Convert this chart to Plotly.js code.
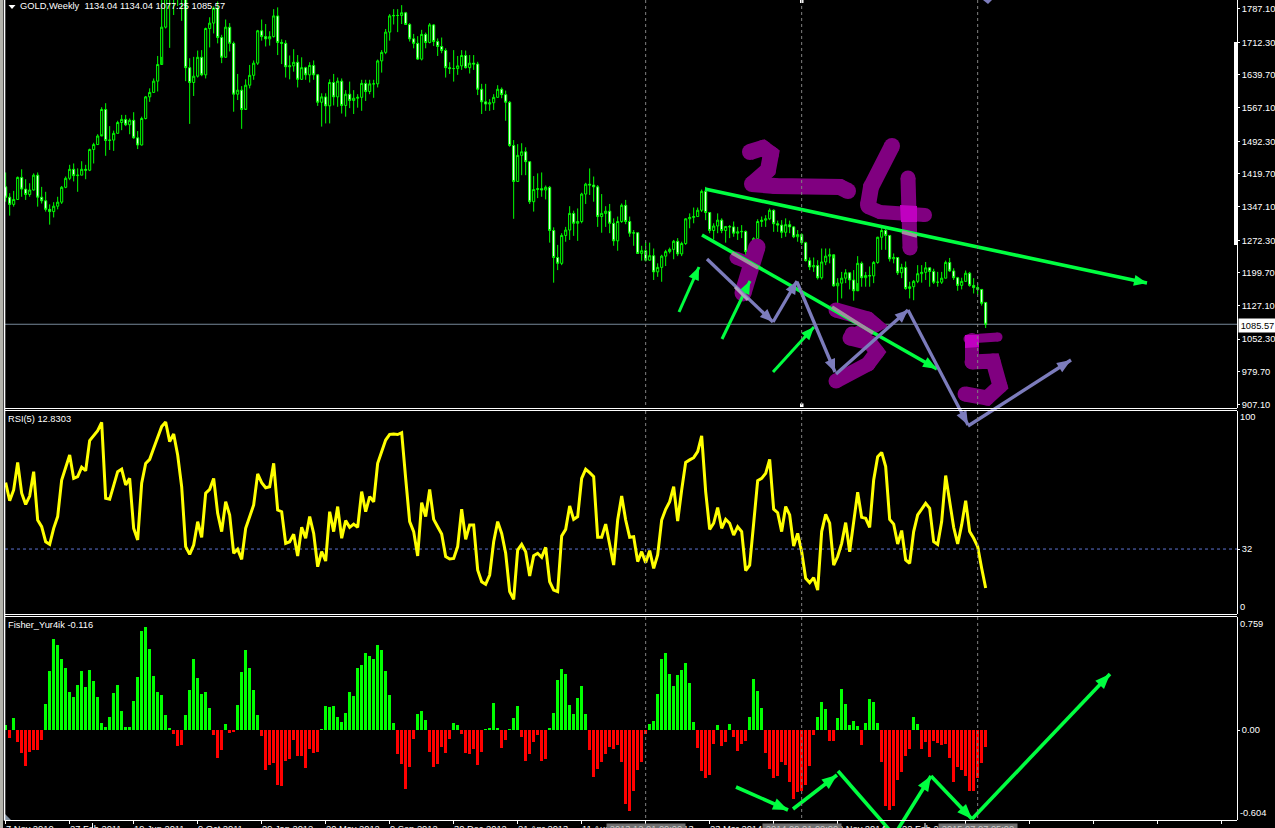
<!DOCTYPE html>
<html><head><meta charset="utf-8">
<script src="https://cdn.plot.ly/plotly-3.0.1.min.js"></script>
<style>html,body{margin:0;padding:0;background:#000;overflow:hidden}#c{width:1275px;height:828px}</style>
</head><body><div id="c"></div>
<script>
const firstOpen = 1391;
const closes = [1368,1352,1363,1412,1386,1374,1384,1417,1368,1360,1341,1336,1348,1357,1390,1410,1430,1416,1417,1430,
1428,1474,1485,1504,1563,1494,1495,1510,1534,1541,1529,1539,1500,1484,1543,1591,1601,1626,1663,1746,
1851,1830,1860,1880,1815,1656,1623,1637,1679,1640,1743,1755,1788,1723,1679,1746,1710,1597,1606,1563,
1617,1639,1666,1738,1725,1720,1725,1771,1712,1710,1658,1660,1668,1630,1656,1640,1661,1640,1579,1591,
1571,1623,1591,1626,1572,1597,1583,1588,1590,1621,1603,1620,1620,1671,1690,1735,1771,1772,1772,1778,
1752,1720,1710,1675,1730,1712,1751,1714,1703,1694,1656,1654,1654,1660,1683,1656,1666,1664,1608,1580,
1575,1578,1590,1608,1596,1579,1483,1403,1461,1469,1447,1358,1385,1387,1384,1390,1294,1234,1221,1283,
1295,1332,1310,1314,1375,1397,1395,1391,1325,1332,1337,1310,1271,1314,1350,1314,1288,1289,1243,1249,
1228,1238,1202,1212,1237,1247,1252,1270,1242,1265,1320,1323,1325,1339,1381,1334,1294,1304,1317,1294,
1303,1302,1288,1291,1292,1247,1251,1276,1314,1317,1320,1339,1309,1306,1290,1307,1302,1280,1285,1267,
1227,1213,1216,1189,1224,1237,1240,1171,1177,1188,1200,1184,1160,1221,1189,1194,1193,1223,1279,1294,
1283,1231,1234,1200,1212,1165,1169,1181,1198,1201,1211,1203,1179,1179,1188,1223,1204,1189,1172,1181,
1199,1172,1167,1163,1132,1085.57];
const highs = [1423,1377,1382,1414,1430,1408,1399,1421,1423,1391,1380,1352,1357,1369,1393,1414,1440,1443,1432,1448,
1440,1476,1489,1508,1568,1577,1526,1516,1538,1551,1551,1543,1557,1515,1547,1593,1610,1632,1682,1825,
1880,1880,1915,1920,1890,1815,1677,1680,1694,1695,1745,1768,1792,1803,1729,1763,1755,1714,1642,1615,
1630,1662,1672,1740,1763,1753,1737,1786,1790,1719,1717,1683,1697,1684,1679,1658,1668,1672,1642,1599,
1599,1630,1642,1634,1632,1606,1625,1606,1597,1629,1629,1629,1629,1674,1695,1742,1775,1786,1786,1795,
1780,1755,1731,1726,1740,1734,1755,1753,1721,1723,1699,1668,1695,1682,1695,1694,1684,1684,1669,1620,
1620,1586,1597,1617,1612,1605,1582,1495,1486,1488,1479,1448,1415,1421,1423,1394,1393,1301,1262,1288,
1302,1348,1338,1343,1378,1400,1432,1414,1395,1375,1348,1353,1321,1325,1354,1362,1325,1295,1289,1260,
1269,1267,1254,1221,1240,1251,1256,1273,1277,1269,1321,1332,1345,1345,1385,1391,1334,1310,1332,1321,
1304,1306,1314,1302,1306,1294,1257,1279,1319,1325,1328,1343,1341,1316,1317,1321,1316,1304,1295,1288,
1269,1234,1234,1228,1254,1254,1254,1232,1188,1202,1208,1200,1206,1237,1225,1202,1214,1226,1280,1306,
1302,1283,1243,1234,1220,1225,1180,1184,1217,1217,1224,1212,1209,1202,1202,1227,1233,1210,1191,1189,
1205,1202,1188,1177,1164,1134.04];
const lows = [1358,1327,1347,1362,1369,1362,1369,1383,1347,1354,1336,1307,1323,1341,1353,1388,1406,1403,1380,1417,
1408,1426,1443,1484,1508,1460,1473,1471,1510,1517,1526,1508,1498,1475,1483,1541,1580,1600,1603,1680,
1743,1700,1773,1793,1760,1626,1531,1593,1634,1637,1632,1701,1732,1710,1666,1680,1692,1558,1584,1520,
1565,1610,1629,1662,1716,1703,1705,1723,1684,1664,1634,1630,1647,1612,1629,1629,1623,1629,1571,1525,
1532,1532,1572,1569,1554,1547,1566,1553,1567,1560,1582,1597,1589,1612,1645,1686,1716,1752,1735,1753,
1751,1714,1699,1673,1672,1699,1710,1704,1682,1688,1634,1642,1625,1640,1651,1654,1643,1651,1595,1553,
1560,1560,1562,1590,1588,1538,1480,1320,1403,1417,1417,1353,1336,1366,1369,1363,1267,1178,1206,1217,
1269,1273,1282,1271,1310,1353,1373,1358,1302,1289,1302,1288,1260,1249,1311,1308,1280,1260,1242,1227,
1225,1227,1184,1191,1180,1215,1243,1230,1237,1237,1262,1299,1310,1325,1335,1317,1288,1274,1288,1288,
1267,1277,1280,1273,1277,1240,1237,1243,1274,1302,1302,1317,1291,1291,1277,1280,1288,1277,1269,1262,
1225,1206,1202,1185,1185,1217,1221,1169,1130,1143,1177,1163,1138,1177,1169,1169,1169,1177,1220,1251,
1251,1225,1221,1195,1188,1162,1143,1139,1177,1178,1184,1169,1175,1169,1175,1188,1202,1184,1160,1163,
1180,1169,1154,1151,1127,1077.25];
const rsi = [64.7,55.8,61.1,74.6,59.5,54.0,58.1,70.1,46.3,43.0,35.6,34.3,42.2,48.0,66.0,72.6,78.3,66.8,67.7,72.3,
70.6,85.4,87.7,90.3,94.4,57.0,56.5,63.6,70.1,71.4,63.6,66.8,42.2,36.5,64.4,74.2,76.2,81.6,86.5,92.3,
94.6,84.9,88.7,78.3,62.7,33.2,29.4,34.0,45.5,37.8,59.5,61.4,66.8,49.6,40.6,55.3,48.8,29.9,31.9,26.9,
42.2,48.0,53.7,69.0,64.7,62.2,62.7,74.2,51.2,50.4,34.8,35.6,39.3,28.6,42.7,37.3,48.0,39.7,23.3,30.7,
26.1,50.4,40.6,52.9,37.3,46.0,42.7,44.3,42.7,60.3,50.4,57.8,55.3,74.2,80.0,85.7,88.5,88.7,88.4,89.3,
66.8,45.5,40.6,28.6,54.9,48.0,61.4,46.6,43.0,39.4,28.3,27.1,27.4,33.2,51.6,36.8,43.9,43.9,21.7,15.9,
14.6,19.2,35.6,45.5,39.7,29.9,11.0,7.2,31.5,34.3,30.7,18.7,28.7,29.9,27.9,32.8,15.9,11.8,11.0,38.4,
41.7,53.2,46.6,48.0,66.8,71.3,69.6,67.7,37.8,37.8,44.3,33.2,24.1,46.3,58.1,46.3,37.8,38.1,25.8,30.7,
25.3,31.2,22.5,29.1,46.3,51.6,55.3,62.7,45.8,61.1,74.7,75.9,77.0,80.0,87.7,60.3,41.7,44.7,52.4,42.2,
46.6,44.7,38.9,43.0,40.6,21.4,24.1,44.7,65.7,66.8,69.3,76.2,51.6,49.9,40.6,52.9,48.8,33.5,39.7,30.7,
17.6,15.4,17.9,11.8,40.6,49.1,44.7,24.1,28.3,34.8,45.0,30.7,46.3,60.0,47.6,47.1,42.7,66.0,77.5,79.6,
72.6,46.6,44.3,34.5,41.1,26.6,25.0,40.6,48.8,51.6,54.5,52.1,35.6,34.3,45.5,68.2,54.5,42.7,34.5,43.9,
55.8,40.6,37.3,33.2,22.5,12.83];
const fisher = [.034,-.054,.081,-.081,-.155,-.242,-.148,-.134,-.134,-.067,.175,.396,.612,.571,.477,.417,.255,.222,.302,.396,
.289,.403,.329,.222,.047,.020,.087,.249,.302,.128,.02,.02,.195,.356,.665,.692,.544,.363,.255,.235,
.101,.013,-.027,-.108,-.101,.101,.269,.477,.349,.242,.255,.148,-.034,-.188,-.134,.04,-.02,-.013,.168,.39,
.538,.417,.269,.101,-.04,-.269,-.235,-.222,-.37,-.376,-.208,-.195,-.067,-.175,-.175,-.255,-.128,-.155,-.148,.007,
.161,.155,.161,.087,.054,.114,.255,.228,.417,.437,.517,.497,.477,.571,.538,.396,.235,.047,-.161,-.228,
-.396,-.249,-.06,.108,.128,.067,-.148,-.249,-.228,-.114,-.155,-.06,.047,.034,-.027,-.155,-.161,-.128,-.235,-.148,
.007,.013,.181,.013,-.121,-.067,.007,.081,.161,-.047,-.208,-.161,-.081,-.034,-.208,-.195,.013,.114,.336,.41,
.376,.168,.108,.215,.296,.108,-.134,-.316,-.262,-.215,-.161,-.114,-.128,-.101,-.215,-.497,-.544,-.41,-.269,-.215,
-.027,.04,.06,.242,.477,.517,.376,.296,.37,.403,.45,.316,.054,-.121,-.276,-.323,-.302,-.094,.034,-.108,
-.081,.04,-.047,-.141,-.094,-.074,.087,.343,.262,.148,-.155,-.262,-.323,-.309,-.215,-.235,-.349,-.464,-.417,-.41,
-.37,-.242,-.034,.087,.188,.141,-.074,-.074,.081,.276,.175,.034,.06,.027,-.101,.047,.208,.188,.047,-.215,
-.511,-.538,-.511,-.336,-.282,-.175,-.128,.087,.04,-.128,-.081,-.181,-.074,-.087,-.101,-.094,-.188,-.349,-.249,-.269,
-.309,-.41,-.41,-.323,-.222,-.116];
const priceTicks = [1787.10,1712.30,1639.70,1567.10,1492.30,1419.70,1347.10,1272.30,1199.70,1127.10,1052.30,979.70,907.10];
const dateTickBars = [0,16,32,48,64,80,96,112,128,144,160,176,192,208,224,240];
const dateTickLabels = ["7 Nov 2010","27 Feb 2011","19 Jun 2011","9 Oct 2011","29 Jan 2012","20 May 2012","9 Sep 2012","30 Dec 2012","21 Apr 2013","11 Aug 2013","1 Dec 2013","23 Mar 2014","13 Jul 2014","2 Nov 2014","22 Feb 2015","14 Jun 2015"];
const allTickBars = [0,16,32,48,64,80,96,112,128,144,160,176,192,208,224,240,256,272,288,304];
const markerBars = [160,199,243];
const markerLabels = ["2013.12.01 00:00","2014.09.01 00:00","2015.07.07 05:00"];
const lastPrice = 1085.57, rsiLevel = 32;

const W=1275,H=828,FONT='"Liberation Sans",Arial,sans-serif',FS=9.3;
const bars = closes.map((_,i)=>i);
const opens = closes.map((_,i)=> i? closes[i-1] : firstOpen);
opens[245]=1134.04;
const xr=[(5-5.67)/4,(1237-5.67)/4];
const py=p=>1-p/H;
const GREEN='#00ff40',LAV='#7c7cbc',PUR='#800080';
const traces=[];
traces.push({type:'candlestick',x:bars,open:opens,high:highs,low:lows,close:closes,xaxis:'x',yaxis:'y',
  increasing:{line:{color:'#00ff00',width:1},fillcolor:'#000'},decreasing:{line:{color:'#00ff00',width:1},fillcolor:'#fff'},whiskerwidth:0,hoverinfo:'skip'});
traces.push({type:'scatter',mode:'lines',x:bars,y:rsi,xaxis:'x2',yaxis:'y2',line:{color:'#ffff00',width:3},hoverinfo:'skip'});
traces.push({type:'bar',x:bars,y:fisher,width:.75,xaxis:'x3',yaxis:'y3',marker:{color:fisher.map(v=>v>=0?'#00ff00':'#ff0000'),line:{width:0}},hoverinfo:'skip'});

function ov(xs,ys,color,w,extra){traces.push(Object.assign({type:'scatter',mode:'lines',x:xs,y:ys,xaxis:'x4',yaxis:'y4',line:{color,width:w},hoverinfo:'skip'},extra||{}));}
function poly(pts,color){ov(pts.map(p=>p[0]),pts.map(p=>p[1]),color,0,{fill:'toself',fillcolor:color,line:{color,width:0}});}
function stroke(pts,color,w){ov(pts.map(p=>p[0]),pts.map(p=>p[1]),color,w);}
function brush(pts,w){ov(pts.map(p=>p[0]),pts.map(p=>p[1]),PUR,w,{mode:'lines+markers',marker:{color:PUR,size:w,line:{width:0}},line:{color:PUR,width:w}});}
function arrow(a,b,color,w,len,hw){stroke([a,b],color,w);
  if(!len)return;const dx=b[0]-a[0],dy=b[1]-a[1],L=Math.hypot(dx,dy),ux=dx/L,uy=dy/L,bx=b[0]-ux*len,by=b[1]-uy*len;
  poly([[b[0],b[1]],[bx-uy*hw,by+ux*hw],[bx+uy*hw,by-ux*hw],[b[0],b[1]]],color);}
// hand-drawn digits
brush([[750,152],[763,148],[771,154],[768,170],[752,184],[775,186],[840,187],[848,191]],16);
brush([[892,146],[871,187],[868,205]],16);brush([[868,207],[880,212],[925,215]],14);
brush([[908,178],[910,248]],15);
poly([[900,205],[917,206],[917,222],[901,222],[900,205]],'#c000c0');
brush([[736,258],[746,262]],13);brush([[757,247],[743,293]],17);
brush([[836,310],[868,319],[875,325],[852,334],[850,338],[870,343],[877,352],[868,364],[836,381]],15);
brush([[968,339],[998,337]],9);brush([[972,340],[972,362]],14);
brush([[972,362],[993,361],[1000,386],[987,398],[965,394]],15);
poly([[965,335],[979,335],[979,347],[965,348],[965,335]],'#c000c0');
// main chart drawings
const HW=5.5;
arrow([705,189],[1147,283],GREEN,3.6,13,HW);
arrow([702,235],[937,369],GREEN,3.6,14,HW);
arrow([679,312],[699,267],GREEN,3,13,HW);
arrow([722,339],[750,281],GREEN,3,13,HW);
arrow([773,372],[814,327],GREEN,3,13,HW);
arrow([707,259],[773,322],LAV,3.3,13,HW);
arrow([773,322],[797,281],LAV,3.3,13,HW);
arrow([797,282],[835,372],LAV,3.3,13,HW);
arrow([836,374],[908,310],LAV,3.3,13,HW);
arrow([908,310],[968,425],LAV,3.3,14,HW);
arrow([968,426],[1071,360],LAV,3.3,14,HW);
poly([[983,0],[992,0],[988,4],[983,0]],LAV);
// crossings where the strokes overlap the digits
stroke([[732,253],[758,268]],'#a090a0',3.4);stroke([[832,307],[873,333]],'#a090a0',3.4);
stroke([[902,232],[917,236]],'#a090a0',3.4);stroke([[735,287],[748,300]],'#b0a0c0',3);
// Fisher drawings
arrow([736,787],[788,810],GREEN,3.6,15,6);
arrow([793,809],[837,775],GREEN,3.6,15,6);
arrow([838,771],[893,834],GREEN,3.6);
arrow([895,834],[931,776],GREEN,3.6,15,6);
arrow([931,776],[972,819],GREEN,3.6,15,6);
arrow([972,819],[1110,674],GREEN,3.6,15,6);
// chrome
stroke([[1235.5,42],[1235.5,245]],'#fff',3);
poly([[0,0],[3,0],[3,828],[0,828],[0,0]],'#b4b4ac');
poly([[5,820],[5,814],[11,820],[5,820]],'#8090a0');
poly([[8.5,5],[15.5,5],[12,9],[8.5,5]],'#fff');
stroke([[92.5,823],[92.5,828]],'#fff',1);stroke([[925,823],[925,828]],'#fff',1);
poly([[800,0],[803.5,0],[803.5,3],[800,3],[800,0]],'#fff');
poly([[800,403.5],[803.5,403.5],[803.5,407],[800,407],[800,403.5]],'#fff');

const hline=(p,c='#fff',w=1)=>({type:'line',xref:'paper',yref:'paper',x0:4.5/W,x1:1237/W,y0:py(p),y1:py(p),line:{color:c,width:w}});
const shapes=[hline(408.5),hline(410.5),hline(614.5),hline(616.5),hline(820.5)];
shapes.push({type:'line',xref:'paper',yref:'paper',x0:4.5/W,x1:4.5/W,y0:py(820.5),y1:1,line:{color:'#fff',width:1.6}});
shapes.push({type:'line',xref:'x',yref:'y',x0:xr[0],x1:xr[1],y0:lastPrice,y1:lastPrice,line:{color:'#778899',width:1},layer:'below'});
shapes.push({type:'line',xref:'x2',yref:'y2',x0:xr[0],x1:xr[1],y0:rsiLevel,y1:rsiLevel,line:{color:'#5c72d0',width:1,dash:'3px,3px'},layer:'below'});
markerBars.forEach((b)=>{[[0,408],[411,614],[617,820]].forEach(([a,c])=>{
  shapes.push({type:'line',xref:'x',yref:'paper',x0:b,x1:b,y0:py(a),y1:py(c),line:{color:'#808080',width:1,dash:'3px,3px'},layer:'above'});});});

const txt=(x,p,t,o)=>Object.assign({xref:'paper',yref:'paper',x:x/W,y:py(p),text:t,showarrow:false,xanchor:'left',yanchor:'middle',
  font:{family:FONT,size:FS,color:'#fff'},borderpad:0,borderwidth:0},o||{});
const ann=[
 txt(20,6,'GOLD,Weekly  1134.04 1134.04 1077.25 1085.57'),
 txt(8,419,'RSI(5) 12.8303'),
 txt(8,625,'Fisher_Yur4ik -0.116'),
 txt(1240,417,'100'),txt(1240,607,'0'),
 txt(1240,624,'0.759'),txt(1240,813,'-0.604'),
];
ann.push({xref:'paper',yref:'paper',x:1238/W,y:py(325),xanchor:'left',yanchor:'middle',showarrow:false,text:'1085.57',font:{family:FONT,size:FS,color:'#000'},bgcolor:'#fff',width:37,height:13,align:'center',borderpad:0});
dateTickBars.forEach((b,i)=>ann.push({xref:'x',yref:'paper',x:b,y:py(823),xanchor:'left',yanchor:'top',showarrow:false,text:dateTickLabels[i],font:{family:FONT,size:FS,color:'#fff'},borderpad:0,xshift:-1}));
markerBars.forEach((b,i)=>ann.push({xref:'x',yref:'paper',x:b,y:py(823),xanchor:'center',yanchor:'top',showarrow:false,text:markerLabels[i],font:{family:FONT,size:FS,color:'#c8c8c8'},bgcolor:'#707070',width:78,height:11,valign:'top',borderpad:0}));

const xbase={range:xr,showgrid:false,zeroline:false,fixedrange:true,showline:false};
const ybase={side:'right',showgrid:false,zeroline:false,fixedrange:true,showline:true,linecolor:'#fff',linewidth:1,ticks:'outside',ticklen:2,tickcolor:'#fff',tickfont:{family:FONT,size:FS,color:'#fff'}};
const layout={width:W,height:H,margin:{l:0,r:0,t:0,b:0},paper_bgcolor:'#000',plot_bgcolor:'rgba(0,0,0,0)',showlegend:false,hovermode:false,dragmode:false,boxgap:.25,bargap:0,
 xaxis:Object.assign({},xbase,{domain:[5/W,1237/W],anchor:'y',rangeslider:{visible:false},showticklabels:false,ticks:''}),
 xaxis2:Object.assign({},xbase,{domain:[5/W,1237/W],anchor:'y2',showticklabels:false,ticks:''}),
 xaxis3:Object.assign({},xbase,{domain:[5/W,1237/W],anchor:'y3',tickmode:'array',tickvals:allTickBars,ticktext:allTickBars.map(_=>''),ticks:'outside',ticklen:3,tickcolor:'#fff'}),
 yaxis:Object.assign({},ybase,{domain:[py(408),1],anchor:'x',range:[899.4,1806.4],tickmode:'array',tickvals:priceTicks,ticktext:priceTicks.map(v=>v.toFixed(2))}),
 yaxis2:Object.assign({},ybase,{domain:[py(614),py(411)],anchor:'x2',range:[0,100],tickmode:'array',tickvals:[rsiLevel],ticktext:['32']}),
 yaxis3:Object.assign({},ybase,{domain:[py(820),py(617)],anchor:'x3',range:[-.604,.759],tickmode:'array',tickvals:[0],ticktext:['0.00']}),
 xaxis4:{domain:[0,1],range:[0,W],visible:false,fixedrange:true,anchor:'y4'},
 yaxis4:{domain:[0,1],range:[H,0],visible:false,fixedrange:true,anchor:'x4'},
 shapes,annotations:ann};
Plotly.newPlot('c',traces,layout,{staticPlot:true,displayModeBar:false});
</script></body></html>
